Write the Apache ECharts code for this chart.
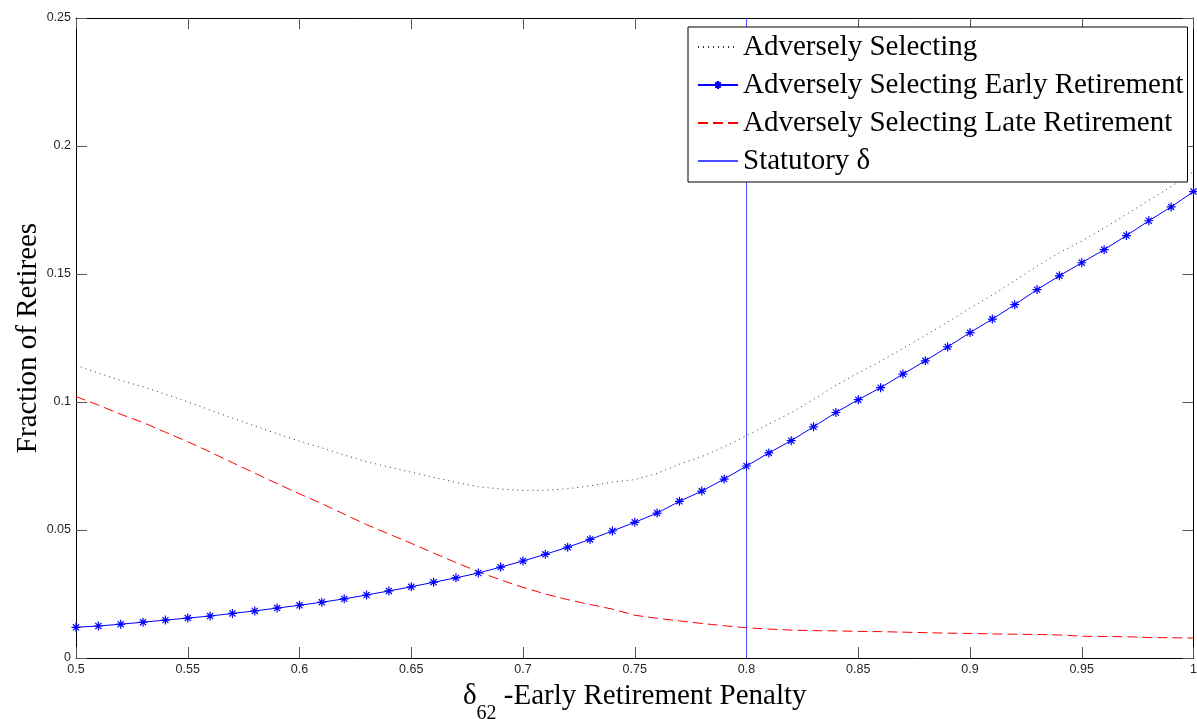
<!DOCTYPE html>
<html>
<head>
<meta charset="utf-8">
<script src="https://cdn.jsdelivr.net/npm/echarts@6/dist/echarts.min.js"></script>
<style>
html,body{margin:0;padding:0;background:#fff;}
#chart{width:1197px;height:719px;}
</style>
</head>
<body>
<div id="chart"></div>
<script>
var penalty = [0.50,0.51,0.52,0.53,0.54,0.55,0.56,0.57,0.58,0.59,0.60,0.61,0.62,0.63,0.64,0.65,0.66,0.67,0.68,0.69,0.70,0.71,0.72,0.73,0.74,0.75,0.76,0.77,0.78,0.79,0.80,0.81,0.82,0.83,0.84,0.85,0.86,0.87,0.88,0.89,0.90,0.91,0.92,0.93,0.94,0.95,0.96,0.97,0.98,0.99,1.00];
var adverselySelecting = [0.1143,0.1113,0.1084,0.1060,0.1030,0.1001,0.0969,0.0937,0.0906,0.0876,0.0847,0.0821,0.0793,0.0767,0.0746,0.0726,0.0706,0.0686,0.0669,0.0660,0.0655,0.0655,0.0661,0.0672,0.0687,0.0697,0.0721,0.0757,0.0787,0.0825,0.0868,0.0914,0.0958,0.1010,0.1065,0.1113,0.1159,0.1210,0.1260,0.1312,0.1367,0.1418,0.1473,0.1531,0.1583,0.1629,0.1679,0.1733,0.1788,0.1841,0.1900];
var earlyRetirement = [0.0120,0.0125,0.0132,0.0140,0.0148,0.0156,0.0164,0.0174,0.0184,0.0195,0.0206,0.0218,0.0231,0.0246,0.0262,0.0278,0.0296,0.0313,0.0332,0.0355,0.0379,0.0405,0.0433,0.0463,0.0496,0.0530,0.0566,0.0612,0.0652,0.0699,0.0750,0.0801,0.0849,0.0903,0.0959,0.1009,0.1056,0.1109,0.1161,0.1215,0.1271,0.1324,0.1380,0.1439,0.1493,0.1544,0.1595,0.1650,0.1708,0.1762,0.1822];
var lateRetirement = [0.1021,0.0988,0.0952,0.0920,0.0882,0.0845,0.0805,0.0763,0.0722,0.0681,0.0641,0.0603,0.0562,0.0521,0.0484,0.0448,0.0410,0.0373,0.0337,0.0305,0.0276,0.0250,0.0228,0.0209,0.0191,0.0167,0.0155,0.0145,0.0135,0.0126,0.0118,0.0113,0.0109,0.0107,0.0106,0.0104,0.0103,0.0101,0.0099,0.0097,0.0096,0.0094,0.0093,0.0092,0.0090,0.0085,0.0084,0.0083,0.0080,0.0079,0.0078];
var statutoryDelta = 0.8;
var statutoryRange = [0, 0.25];
var seriesNames = ['Adversely Selecting','Adversely Selecting Early Retirement','Adversely Selecting Late Retirement','Statutory δ'];

function pairs(xs, ys){ return xs.map(function(x,i){ return [x, ys[i]]; }); }

var serif = 'Liberation Serif';
var sans = 'Liberation Sans';
var tickStyle = {show:true, inside:true, length:11, lineStyle:{color:'#555', width:1}};
var axisLine = {show:true, onZero:false, lineStyle:{color:'#000', width:1}};
var asterisk = 'path://M5,0L5,10M0,5L10,5M1.6,1.6L8.4,8.4M1.6,8.4L8.4,1.6';

var chart = echarts.init(document.getElementById('chart'), null, {renderer:'canvas'});
chart.setOption({
  animation:false,
  backgroundColor:'#fff',
  grid:{left:76, right:3.5, top:18, bottom:61, containLabel:false, outerBoundsMode:'none'},
  legend:{
    orient:'vertical', left:688, top:27,
    data:[
      {name:seriesNames[0], itemStyle:{opacity:0}},
      {name:seriesNames[1]},
      {name:seriesNames[2], itemStyle:{opacity:0}},
      {name:seriesNames[3], itemStyle:{opacity:0}}
    ],
    backgroundColor:'#fff', borderColor:'#000', borderWidth:1, borderRadius:0,
    padding:[5,4,6,9], itemGap:8, itemWidth:40, itemHeight:10,
    textStyle:{fontFamily:serif, fontSize:29, color:'#000', lineHeight:30},
    selectedMode:false
  },
  xAxis:[{
    type:'value', min:0.5, max:1, interval:0.05, position:'bottom',
    axisLine:axisLine, axisTick:tickStyle, splitLine:{show:false},
    axisLabel:{fontFamily:sans, fontSize:12.5, color:'#262626', margin:5},
    name:'{d|δ}{s|62}{t| -Early Retirement Penalty}',
    nameLocation:'middle', nameGap:10,
    nameTextStyle:{rich:{
      d:{fontFamily:serif, fontSize:29, color:'#000', lineHeight:56, verticalAlign:'middle'},
      s:{fontFamily:serif, fontSize:20, color:'#000', lineHeight:56, verticalAlign:'bottom'},
      t:{fontFamily:serif, fontSize:29, color:'#000', lineHeight:56, verticalAlign:'middle'}
    }}
  },{
    type:'value', min:0.5, max:1, interval:0.05, position:'top',
    axisLine:axisLine, axisTick:tickStyle, splitLine:{show:false}, axisLabel:{show:false}
  }],
  yAxis:[{
    type:'value', min:0, max:0.25, interval:0.05, position:'left',
    axisLine:axisLine, axisTick:tickStyle, splitLine:{show:false},
    axisLabel:{fontFamily:sans, fontSize:12.5, color:'#262626', margin:5},
    name:'Fraction of Retirees', nameLocation:'middle', nameGap:33, nameRotate:90, nameMoveOverlap:false,
    nameTextStyle:{fontFamily:serif, fontSize:29, color:'#000'}
  },{
    type:'value', min:0, max:0.25, interval:0.05, position:'right',
    axisLine:axisLine, axisTick:tickStyle, splitLine:{show:false}, axisLabel:{show:false}
  }],
  series:[{
    name:seriesNames[0], type:'line', data:pairs(penalty, adverselySelecting),
    showSymbol:false, symbol:'none', smooth:false,
    lineStyle:{color:'#333', width:1, type:[1,4]}, itemStyle:{color:'#333'}, z:2
  },{
    name:seriesNames[1], type:'line', data:pairs(penalty, earlyRetirement),
    symbol:asterisk, symbolSize:9, showSymbol:true,
    lineStyle:{color:'#0000ff', width:1, type:'solid'},
    itemStyle:{color:'#0000ff', borderColor:'#0000ff', borderWidth:1.2}, z:4
  },{
    name:seriesNames[2], type:'line', data:pairs(penalty, lateRetirement),
    showSymbol:false, symbol:'none',
    lineStyle:{color:'#ff0000', width:1, type:[10,5]}, itemStyle:{color:'#ff0000'}, z:3
  },{
    name:seriesNames[3], type:'line', data:[[statutoryDelta, statutoryRange[0]],[statutoryDelta, statutoryRange[1]]],
    showSymbol:false, symbol:'none',
    lineStyle:{color:'#4a4aff', width:1}, itemStyle:{color:'#4a4aff'}, z:1
  }]
});
</script>
</body>
</html>
